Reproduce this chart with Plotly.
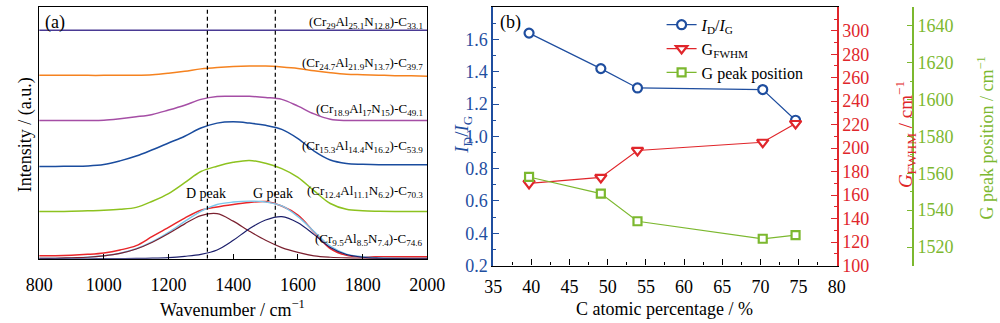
import plotly.graph_objects as go

# ---------------- Panel (a) data: Raman spectra ----------------
wavenumber = [800, 850, 900, 950, 1000, 1050, 1100, 1150, 1200, 1250, 1300, 1350, 1400,
              1450, 1500, 1550, 1600, 1650, 1700, 1750, 1800, 1850, 1900, 1950, 2000]

spec_c33 = [236, 236, 236, 236, 236, 236, 236, 236, 236, 236, 236, 236, 236,
            236, 236, 236, 236, 236, 236, 236, 236, 236, 236, 236, 236]
spec_c39 = [189.5, 189.5, 189.5, 189.3, 189.3, 189.5, 189.5, 190, 191.5, 193.5, 196, 197.5, 198.5,
            199, 199, 198, 196.5, 194, 192, 190.5, 190, 189.5, 189, 188.8, 188.5]
spec_c49 = [142.7, 142.7, 142.7, 142.7, 143, 144.5, 146.5, 149, 153.5, 158.5, 164.5, 167.5, 167.7,
            167.7, 166.5, 164.5, 157.5, 149.5, 144, 142.7, 142.7, 142.7, 142.7, 142.7, 142.7]
spec_c54 = [95.3, 95.3, 95.5, 95.8, 97.2, 101, 106, 112.5, 119.5, 126.5, 135, 140, 141.3,
            140, 137.7, 133.5, 124, 111.2, 102, 98.4, 97.5, 97, 97, 97, 97]
spec_c70 = [48.7, 48.7, 49, 49.5, 50, 51, 53, 59.4, 67.3, 78.5, 90, 95.5, 99.5,
            101.5, 98.5, 93, 84, 70, 57, 51, 49.5, 49, 48.7, 48.7, 48.7]
spec_c75 = [3, 3, 3.5, 4.5, 6, 9, 13.5, 23, 32.3, 42, 50, 53.5, 56,
            58, 59, 54.5, 45, 27.5, 10.5, 3.5, 2, 2, 2, 2, 2]
fit_total = [0.5, 0.5, 1, 1.5, 3, 5.7, 10.3, 17.6, 27.2, 38.5, 49, 56, 58.5,
             59.5, 58.5, 54.5, 43.5, 28, 13, 4.8, 2, 1, 0.5, 0.3, 0.3]
fit_d = [0.5, 0.5, 1, 1.5, 3, 5.5, 10, 17, 26, 36, 44.5, 46.5, 38.8,
         28.4, 19, 11.5, 6.5, 3, 1.5, 0.8, 0.5, 0.4, 0.3, 0.3, 0.3]
fit_g = [0, 0, 0, 0, 0.1, 0.2, 0.3, 0.6, 1.2, 2.5, 4.5, 9, 19,
         31, 40, 43.5, 37.2, 24.9, 11.7, 4.4, 1.5, 0.5, 0.2, 0, 0]

spectra_labels = ["(Cr<sub>29</sub>Al<sub>25.1</sub>N<sub>12.8</sub>)-C<sub>33.1</sub>",
                  "(Cr<sub>24.7</sub>Al<sub>21.9</sub>N<sub>13.7</sub>)-C<sub>39.7</sub>",
                  "(Cr<sub>18.9</sub>Al<sub>17</sub>N<sub>15</sub>)-C<sub>49.1</sub>",
                  "(Cr<sub>15.3</sub>Al<sub>14.4</sub>N<sub>16.2</sub>)-C<sub>53.9</sub>",
                  "(Cr<sub>12.4</sub>Al<sub>11.1</sub>N<sub>6.2</sub>)-C<sub>70.3</sub>",
                  "(Cr<sub>9.5</sub>Al<sub>8.5</sub>N<sub>7.4</sub>)-C<sub>74.6</sub>"]
label_heights = [244, 202, 154, 116, 69, 20]
peak_positions = [1320, 1530]
peak_label_x = [1316, 1523]
peak_names = ["D peak", "G peak"]

# ---------------- Panel (b) data ----------------
c_percent = [39.7, 49.1, 53.9, 70.3, 74.6]
id_ig = [1.64, 1.42, 1.30, 1.29, 1.10]
g_fwhm = [170, 175, 198, 205, 221]
g_pos = [1558, 1549, 1534, 1524.5, 1526.5]

FONT = "Liberation Serif, Times New Roman, DejaVu Serif, serif"
BLUE = "#1f4e9f"
RED = "#e0262b"
GREEN = "#7cb82f"

fig = go.Figure()

spec_colors = ["#4a3a94", "#f5821f", "#a54ea5", "#1a4c9e", "#8dc21f", "#e8262a"]
for ys, col in zip([spec_c33, spec_c39, spec_c49, spec_c54, spec_c70, spec_c75], spec_colors):
    fig.add_trace(go.Scatter(x=wavenumber, y=ys, mode="lines", line=dict(color=col, width=1.5, shape="spline"),
                             xaxis="x", yaxis="y", showlegend=False))
fig.add_trace(go.Scatter(x=wavenumber, y=fit_total, mode="lines", line=dict(color="#7cc8ec", width=1.4, shape="spline"),
                         xaxis="x", yaxis="y", showlegend=False))
fig.add_trace(go.Scatter(x=wavenumber, y=fit_d, mode="lines", line=dict(color="#7b2130", width=1.2, shape="spline"),
                         xaxis="x", yaxis="y", showlegend=False))
fig.add_trace(go.Scatter(x=wavenumber, y=fit_g, mode="lines", line=dict(color="#1c1f6b", width=1.2, shape="spline"),
                         xaxis="x", yaxis="y", showlegend=False))
for p in peak_positions:
    fig.add_trace(go.Scatter(x=[p, p], y=[0, 260], mode="lines", line=dict(color="black", width=1.2, dash="4px,3px"),
                             xaxis="x", yaxis="y", showlegend=False))

# Panel (b)
fig.add_trace(go.Scatter(x=c_percent, y=id_ig, mode="lines+markers", name="<i>I</i><sub>D</sub>/<i>I</i><sub>G</sub>",
                         line=dict(color=BLUE, width=1.2),
                         marker=dict(symbol="circle", size=9, color="white", line=dict(color=BLUE, width=2.2)),
                         xaxis="x2", yaxis="y2"))
fig.add_trace(go.Scatter(x=c_percent, y=g_fwhm, mode="lines+markers", name="G<sub>FWHM</sub>",
                         line=dict(color=RED, width=1.2),
                         marker=dict(symbol="triangle-down", size=10, color="white", line=dict(color=RED, width=2.2)),
                         xaxis="x2", yaxis="y3"))
fig.add_trace(go.Scatter(x=c_percent, y=g_pos, mode="lines+markers", name="G peak position",
                         line=dict(color=GREEN, width=1.2),
                         marker=dict(symbol="square", size=8, color="white", line=dict(color=GREEN, width=2.2)),
                         xaxis="x2", yaxis="y4"))

annotations = []
for txt, h in zip(spectra_labels, label_heights):
    annotations.append(dict(x=1993, y=h, xref="x", yref="y", text=txt, showarrow=False, xanchor="right",
                            yanchor="middle", font=dict(family=FONT, size=13, color="black")))
for px, name in zip(peak_label_x, peak_names):
    annotations.append(dict(x=px, y=67, xref="x", yref="y", text=name, showarrow=False,
                            xanchor="center", yanchor="middle", font=dict(family=FONT, size=14, color="black")))
annotations += [
    dict(x=0.030, y=0.928, xref="paper", yref="paper", text="(a)", showarrow=False, xanchor="left",
         yanchor="middle", font=dict(family=FONT, size=18, color="black")),
    dict(x=0.500, y=0.928, xref="paper", yref="paper", text="(b)", showarrow=False, xanchor="left",
         yanchor="middle", font=dict(family=FONT, size=18, color="black")),
    dict(x=0.012, y=0.57, xref="paper", yref="paper", text="Intensity / (a.u.)", showarrow=False, textangle=-90,
         xanchor="center", yanchor="middle", font=dict(family=FONT, size=18, color="black")),
    dict(x=0.226, y=0.014, xref="paper", yref="paper", text="Wavenumber / cm<sup>−1</sup>", showarrow=False,
         xanchor="center", yanchor="middle", font=dict(family=FONT, size=18, color="black")),
    dict(x=0.672, y=0.014, xref="paper", yref="paper", text="C atomic percentage / %", showarrow=False,
         xanchor="center", yanchor="middle", font=dict(family=FONT, size=18, color="black")),
    dict(x=0.463, y=0.57, xref="paper", yref="paper", text="<i>I</i><sub>D</sub>/<i>I</i><sub>G</sub>", showarrow=False,
         textangle=-90, xanchor="center", yanchor="middle", font=dict(family=FONT, size=19, color=BLUE)),
    dict(x=0.921, y=0.57, xref="paper", yref="paper", text="<i>G</i><sub>FWHM</sub> / cm<sup>−1</sup>", showarrow=False,
         textangle=-90, xanchor="center", yanchor="middle", font=dict(family=FONT, size=19, color=RED)),
    dict(x=1.004, y=0.56, xref="paper", yref="paper", text="G peak position / cm<sup>−1</sup>", showarrow=False,
         textangle=-90, xanchor="center", yanchor="middle", font=dict(family=FONT, size=18, color=GREEN)),
]

tickfont = dict(family=FONT, size=18, color="black")
fig.update_layout(
    width=1000, height=323,
    margin=dict(l=0, r=0, t=0, b=0),
    paper_bgcolor="white", plot_bgcolor="white",
    font=dict(family=FONT),
    showlegend=True,
    legend=dict(x=0.669, y=0.975, xanchor="left", yanchor="top", bgcolor="rgba(0,0,0,0)",
                font=dict(family=FONT, size=16, color="black"), tracegroupgap=0, itemwidth=30),
    xaxis=dict(domain=[0.026, 0.427], range=[800, 2000], dtick=200, tick0=800, ticks="inside", ticklen=5,
               tickcolor="black", showline=True, linecolor="black", linewidth=1.2, mirror=True,
               showgrid=False, zeroline=False, tickfont=tickfont, ticklabelstandoff=10, anchor="y"),
    yaxis=dict(domain=[0.1734, 0.978], range=[0, 260], showticklabels=False, ticks="", showline=True,
               linecolor="black", linewidth=1.2, mirror=True, showgrid=False, zeroline=False, anchor="x"),
    xaxis2=dict(domain=[0.495, 0.85], range=[35, 80], dtick=5, tick0=35, ticks="inside", ticklen=6,
                tickcolor="black", showline=True, linecolor="black", linewidth=1.2, mirror=True,
                minor=dict(dtick=2.5, ticks="inside", ticklen=3, tickcolor="black"),
                showgrid=False, zeroline=False, tickfont=tickfont, ticklabelstandoff=5, anchor="y2"),
    yaxis2=dict(domain=[0.1517, 0.9768], range=[0.2, 1.8], dtick=0.2, tick0=0.2, tickformat=".1f",
                ticks="inside", ticklen=6, tickcolor=BLUE, showline=True, linecolor=BLUE, linewidth=1.5,
                minor=dict(dtick=0.1, ticks="inside", ticklen=3, tickcolor=BLUE),
                showgrid=False, zeroline=False, tickfont=dict(family=FONT, size=18, color=BLUE), anchor="x2"),
    yaxis3=dict(overlaying="y2", side="right", range=[100, 320], dtick=20, tick0=100,
                ticks="inside", ticklen=6, tickcolor=RED, showline=True, linecolor=RED, linewidth=1.5,
                minor=dict(dtick=10, ticks="inside", ticklen=3, tickcolor=RED),
                showgrid=False, zeroline=False, tickfont=dict(family=FONT, size=18, color=RED), anchor="x2"),
    yaxis4=dict(overlaying="y2", side="right", anchor="free", position=0.929, range=[1510, 1650], dtick=20,
                tick0=1520, ticks="inside", ticklen=6, tickcolor=GREEN, showline=True, linecolor=GREEN, linewidth=1.5,
                minor=dict(dtick=10, ticks="inside", ticklen=3, tickcolor=GREEN),
                showgrid=False, zeroline=False, tickfont=dict(family=FONT, size=18, color=GREEN)),
    annotations=annotations,
)

fig.write_html("out.html")
